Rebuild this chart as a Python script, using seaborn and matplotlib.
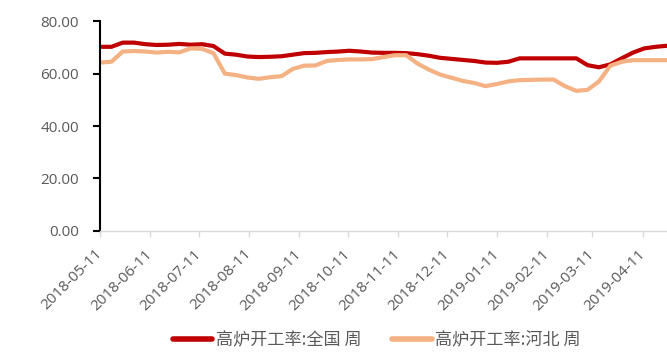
import matplotlib
matplotlib.use("Agg")
import matplotlib.pyplot as plt
import matplotlib.dates as mdates
import numpy as np
import pandas as pd
import seaborn as sns

# Weekly blast-furnace operating rate (%), starting 2018-05-11
start_date = "2018-05-11"
national = [70.2, 70.2, 71.8, 71.8, 71.2, 70.9, 71.0, 71.3, 71.0, 71.2,
            70.5, 67.6, 67.2, 66.5, 66.3, 66.4, 66.6, 67.2, 67.8, 67.9,
            68.2, 68.4, 68.7, 68.4, 68.0, 67.9, 67.9, 67.8, 67.4, 66.8,
            66.0, 65.6, 65.2, 64.8, 64.2, 64.1, 64.5, 65.8, 65.8, 65.8,
            65.8, 65.8, 65.8, 63.2, 62.4, 63.5, 65.8, 68.0, 69.6, 70.2,
            70.6]
hebei = [64.2, 64.5, 68.4, 68.6, 68.4, 68.0, 68.3, 68.1, 69.6, 69.4,
         67.8, 60.0, 59.4, 58.5, 58.0, 58.6, 59.0, 61.8, 63.0, 63.1,
         64.8, 65.2, 65.4, 65.4, 65.5, 66.3, 67.0, 67.0, 63.8, 61.5,
         59.6, 58.4, 57.2, 56.4, 55.2, 56.0, 57.0, 57.5, 57.6, 57.7,
         57.7, 55.2, 53.4, 53.8, 57.0, 63.0, 64.5, 65.1, 65.1, 65.1,
         65.1]
series_names = ["高炉开工率:全国 周", "高炉开工率:河北 周"]
series_colors = ["#C00000", "#F4B183"]
y_ticks = [0, 20, 40, 60, 80]

dates = pd.date_range(start_date, periods=len(national), freq="7D")
df = pd.DataFrame({
    "date": np.concatenate([dates, dates]),
    "value": national + hebei,
    "series": [series_names[0]] * len(national) + [series_names[1]] * len(hebei),
})

sns.set_style("white")
plt.rcParams["font.family"] = ["Noto Sans CJK SC", "DejaVu Sans"]

fig = plt.figure(figsize=(6.67, 3.52), dpi=100)
ax = fig.add_axes([0.150, 0.344, 0.850, 0.596])

sns.lineplot(data=df, x="date", y="value", hue="series",
             palette=dict(zip(series_names, series_colors)),
             linewidth=3.0, ax=ax, legend=True)

ax.set_xlim(dates[0], dates[-1])
ax.set_ylim(0, 80)
ax.set_yticks(y_ticks)
ax.yaxis.set_major_formatter(matplotlib.ticker.FormatStrFormatter("%.2f"))
ax.xaxis.set_major_locator(mdates.MonthLocator(bymonthday=11))
ax.xaxis.set_major_formatter(mdates.DateFormatter("%Y-%m-%d"))
ax.set_xlabel("")
ax.set_ylabel("")

for s in ["top", "right"]:
    ax.spines[s].set_visible(False)
ax.spines["left"].set_color("black")
ax.spines["left"].set_linewidth(1.5)
ax.spines["bottom"].set_color("#D9D9D9")
ax.spines["bottom"].set_linewidth(1.0)

ax.tick_params(axis="y", which="major", left=True, length=5, width=1.5,
               color="black", labelsize=11, labelcolor="#595959", pad=10)
ax.tick_params(axis="x", which="major", bottom=True, length=4, width=1.0,
               color="#D9D9D9", labelsize=11, labelcolor="#595959", pad=11)
for lab in ax.get_xticklabels():
    lab.set_rotation(45)
    lab.set_ha("right")
    lab.set_va("center")
    lab.set_rotation_mode("anchor")
for lab in ax.get_yticklabels() + ax.get_xticklabels():
    lab.set_family(["Open Sans", "DejaVu Sans"])

handles, labels = ax.get_legend_handles_labels()
ax.get_legend().remove()
for h in handles:
    h.set_linewidth(4.0)
fig.legend(handles, labels, loc="center", bbox_to_anchor=(0.565, 0.033),
           ncol=2, frameon=False, fontsize=12.3, handlelength=2.3,
           handletextpad=0.2, columnspacing=1.8, labelcolor="#595959",
           borderpad=0.0)

fig.savefig("out.png", dpi=100)
